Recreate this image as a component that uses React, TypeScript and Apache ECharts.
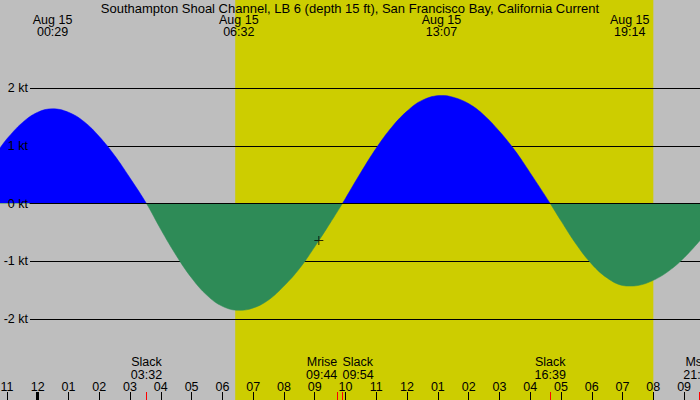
import React, { useEffect, useRef } from 'react';
import * as echarts from 'echarts';

// ---------- data ----------
const TITLE = 'Southampton Shoal Channel, LB 6 (depth 15 ft), San Francisco Bay, California Current';
const DATE_LABEL = 'Aug 15';
// time axis in minutes from midnight Aug 15
const X_MIN = -73.5;
const X_MAX = 1291;
const HOUR_TICKS = [-60, 0, 60, 120, 180, 240, 300, 360, 420, 480, 540, 600, 660, 720, 780, 840, 900, 960, 1020, 1080, 1140, 1200, 1260];
const MIDNIGHT = [0];
const Y_TICKS_MIN = -2;
const Y_TICKS_MAX = 2;
const UNIT = 'kt';

const CURVE_TIME = [-73.5, -60, -30, 0, 29, 60, 90, 120, 150, 180, 212, 240, 270, 300, 330, 360, 392, 420, 450, 480, 510, 540, 570, 594, 600, 630, 660, 690, 720, 750, 787, 810, 840, 870, 900, 930, 960, 999, 1020, 1050, 1080, 1110, 1140, 1154, 1170, 1200, 1230, 1260, 1291];
const CURVE_KT = [0.96, 1.12, 1.40, 1.58, 1.64, 1.58, 1.42, 1.16, 0.83, 0.44, 0, -0.45, -0.90, -1.29, -1.59, -1.78, -1.85, -1.81, -1.67, -1.43, -1.13, -0.75, -0.34, 0, 0.09, 0.54, 0.96, 1.32, 1.60, 1.79, 1.87, 1.84, 1.73, 1.53, 1.25, 0.92, 0.53, 0, -0.30, -0.71, -1.05, -1.29, -1.42, -1.43, -1.42, -1.33, -1.17, -0.94, -0.64];

const EXTREMA_TIME = [29, 392, 787, 1154];

const EVENT_NAME = ['Slack', 'Mrise', 'Slack', 'Slack', 'Mset'];
const EVENT_TIME = [212, 584, 594, 999, 1289];

const DAYLIGHT = [385, 1200];

const NOW_TIME = 548;
const NOW_KT = -0.64;

// ---------- styles ----------
const FONT = 'Liberation Sans';
const BG = '#bebebe';
const DAY = '#cdcd00';
const FLOOD = '#0000ff';
const EBB = '#2e8b57';
const EVENT_ALIGN = ['center', 'right', 'left', 'center', 'center'];

const pad = (n: number) => (n < 10 ? '0' : '') + n;
const clock = (m: number) => {
  const t = ((Math.round(m) % 1440) + 1440) % 1440;
  return pad(Math.floor(t / 60)) + ':' + pad(t % 60);
};
const hourLabel = (m: number) => {
  const h = ((Math.round(m / 60) % 24) + 24) % 24;
  const h12 = h % 12 === 0 ? 12 : h % 12;
  return pad(h12);
};
const eventLabel = (m: number) => {
  let best = 0;
  EVENT_TIME.forEach((t, i) => {
    if (Math.abs(t - m) < Math.abs(EVENT_TIME[best] - m)) best = i;
  });
  return EVENT_NAME[best] + '\n' + clock(EVENT_TIME[best]);
};

export default function App() {
  const ref = useRef<HTMLDivElement>(null);
  useEffect(() => {
    const chart = echarts.init(ref.current!, null, { renderer: 'svg' });
    const txt = { color: '#000', fontSize: 12.5, fontFamily: FONT };
    const baseX: any = {
      type: 'value',
      min: X_MIN,
      max: X_MAX,
      splitLine: { show: false },
      axisLine: { show: false, onZero: false },
      axisTick: { show: false },
      axisLabel: { show: false },
    };
    const eventAxis = (align: string, withTicks: boolean) => ({
      ...baseX,
      gridIndex: 0,
      position: 'bottom',
      offset: 81,
      z: 3,
      axisTick: withTicks
        ? { show: true, inside: true, length: 8, lineStyle: { color: '#ff0000', width: 1 }, customValues: EVENT_TIME }
        : { show: false },
      axisLabel: {
        show: true,
        inside: true,
        margin: 19,
        align,
        lineHeight: 13,
        showMinLabel: true,
        showMaxLabel: true,
        customValues: EVENT_TIME.filter((_, i) => EVENT_ALIGN[i] === align),
        formatter: (v: number) => eventLabel(v),
        ...txt,
      },
    });

    const option: any = {
      animation: false,
      backgroundColor: BG,
      textStyle: { fontFamily: FONT },
      title: {
        text: TITLE,
        left: 'center',
        top: 1,
        padding: 0,
        textStyle: { ...txt, fontSize: 13, fontWeight: 'normal', lineHeight: 14 },
      },
      grid: [
        { left: 0, right: 0, top: 88, bottom: 81, outerBoundsMode: 'none', containLabel: false },
        { left: 30, right: 0, top: 88, bottom: 81, outerBoundsMode: 'none', containLabel: false },
        { left: 0, right: 0, top: 0, bottom: 0, outerBoundsMode: 'none', containLabel: false },
      ],
      xAxis: [
        {
          ...baseX,
          gridIndex: 0,
          position: 'bottom',
          offset: 81,
          z: 3,
          axisTick: { show: true, inside: true, length: 8, lineStyle: { color: '#000', width: 1 }, customValues: HOUR_TICKS },
          axisLabel: { show: true, inside: true, margin: 7, lineHeight: 12, customValues: HOUR_TICKS, formatter: (v: number) => hourLabel(v), showMinLabel: true, showMaxLabel: true, ...txt },
        },
        {
          ...baseX,
          gridIndex: 0,
          position: 'bottom',
          offset: 81,
          z: 3,
          axisTick: { show: true, inside: true, length: 8, lineStyle: { color: '#000', width: 3 }, customValues: MIDNIGHT },
        },
        eventAxis('center', true),
        eventAxis('right', false),
        eventAxis('left', false),
        {
          ...baseX,
          gridIndex: 0,
          position: 'top',
          offset: 88,
          z: 3,
          axisLabel: {
            show: true,
            inside: true,
            margin: 14,
            lineHeight: 12,
            showMinLabel: true,
            showMaxLabel: true,
            customValues: EXTREMA_TIME,
            formatter: (v: number) => DATE_LABEL + '\n' + clock(v),
            ...txt,
          },
        },
        {
          type: 'value',
          gridIndex: 1,
          min: 0,
          max: 1,
          z: 3,
          position: 'bottom',
          axisLine: { show: true, onZero: true, onZeroAxisIndex: 1, lineStyle: { color: '#000', width: 1 } },
          axisTick: { show: false },
          axisLabel: { show: false },
          splitLine: { show: false },
        },
        { ...baseX, gridIndex: 2 },
      ],
      yAxis: [
        { type: 'value', gridIndex: 0, position: 'left', min: Y_TICKS_MIN, max: Y_TICKS_MAX, show: false },
        {
          type: 'value',
          gridIndex: 1,
          position: 'left',
          min: Y_TICKS_MIN,
          max: Y_TICKS_MAX,
          interval: 1,
          z: 1,
          axisLine: { show: false, onZero: false },
          axisTick: { show: false },
          axisLabel: { show: false },
          splitLine: { show: true, lineStyle: { color: '#000', width: 1 } },
        },
        {
          type: 'value',
          gridIndex: 1,
          position: 'left',
          offset: 0,
          min: Y_TICKS_MIN,
          max: Y_TICKS_MAX,
          interval: 1,
          z: 5,
          axisLine: { show: false, onZero: false },
          axisTick: { show: false },
          splitLine: { show: false },
          axisLabel: { show: true, margin: 2, formatter: '{value} ' + UNIT, ...txt },
        },
        { type: 'value', gridIndex: 2, position: 'left', min: 0, max: 1, show: false },
      ],
      visualMap: [
        {
          type: 'piecewise',
          show: false,
          seriesIndex: 0,
          dimension: 1,
          pieces: [
            { gte: -5, lt: 0, color: EBB },
            { gte: 0, lte: 5, color: FLOOD },
          ],
        },
      ],
      series: [
        {
          type: 'line',
          xAxisIndex: 0,
          yAxisIndex: 0,
          z: 2,
          data: CURVE_TIME.map((t, i) => [t, CURVE_KT[i]]),
          smooth: 0.4,
          symbol: 'none',
          lineStyle: { width: 0.5 },
          areaStyle: { opacity: 1, origin: 'auto' },
          silent: true,
        },
        {
          type: 'scatter',
          xAxisIndex: 0,
          yAxisIndex: 0,
          z: 4,
          data: [[NOW_TIME, NOW_KT]],
          symbol: 'path://M4,0h1v9h-1z M0,4h9v1h-9z',
          symbolSize: 9,
          itemStyle: { color: '#000' },
          silent: true,
        },
        {
          type: 'custom',
          xAxisIndex: 7,
          yAxisIndex: 3,
          z: 0,
          silent: true,
          data: [[DAYLIGHT[0], DAYLIGHT[1]]],
          renderItem: (params: any, api: any) => {
            const a = api.coord([api.value(0), 1]);
            const b = api.coord([api.value(1), 0]);
            return {
              type: 'rect',
              shape: { x: a[0], y: a[1], width: b[0] - a[0], height: b[1] - a[1] },
              style: { fill: DAY },
            };
          },
        },
      ],
    };
    chart.setOption(option);
    return () => chart.dispose();
  }, []);
  return <div ref={ref} style={{ position: 'fixed', left: 0, top: 0, width: 700, height: 400 }} />;
}
